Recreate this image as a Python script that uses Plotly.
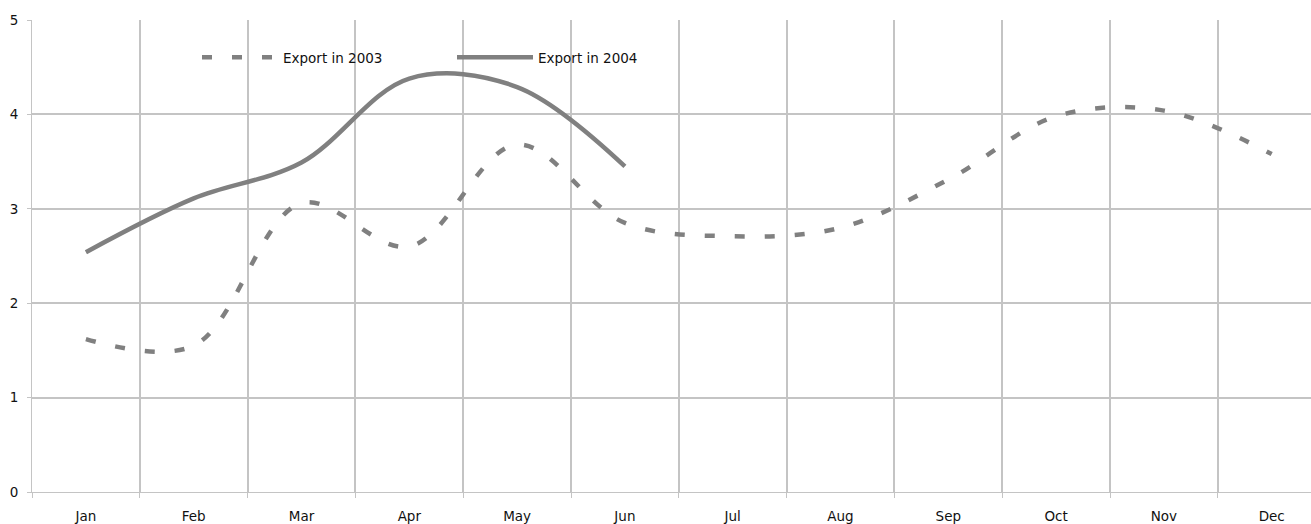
import plotly.graph_objects as go

months = ["Jan", "Feb", "Mar", "Apr", "May", "Jun", "Jul", "Aug", "Sep", "Oct", "Nov", "Dec"]
export_2003 = [1.62, 1.55, 3.06, 2.60, 3.68, 2.85, 2.71, 2.80, 3.31, 3.98, 4.04, 3.58]
months_2004 = ["Jan", "Feb", "Mar", "Apr", "May", "Jun"]
export_2004 = [2.54, 3.11, 3.49, 4.38, 4.29, 3.45]
y_ticks = [0, 1, 2, 3, 4, 5]

W, H = 1311, 524
ML, MR, MT, MB = 32, 0, 20, 32
plot_w = W - ML - MR
cat_w = 107.8
x_end = -0.5 + plot_w / cat_w

LINE = "#808080"
GRID = "#c4c4c4"
FONT = "DejaVu Sans"

fig = go.Figure()
fig.add_trace(go.Scatter(
    x=months, y=export_2003, name="Export in 2003", mode="lines",
    line=dict(color=LINE, width=4.5, dash="10px,20px", shape="spline", smoothing=1),
))
fig.add_trace(go.Scatter(
    x=months_2004, y=export_2004, name="Export in 2004", mode="lines",
    line=dict(color=LINE, width=4.5, shape="spline", smoothing=1),
))

plot_h = H - MT - MB
def px_x(p):
    return (p - ML) / plot_w
def px_y(p):
    return (H - MB - p) / plot_h

# white background block behind the legend (covers gridlines, stays under the lines)
fig.add_shape(type="rect", xref="paper", yref="paper",
              x0=px_x(150), x1=px_x(660), y0=px_y(78), y1=px_y(37),
              fillcolor="white", line=dict(width=0), layer="between")

fig.update_layout(
    width=W, height=H,
    margin=dict(l=ML, r=MR, t=MT, b=MB, pad=0, autoexpand=False),
    paper_bgcolor="white", plot_bgcolor="white",
    font=dict(family=FONT, size=13.5, color="#111111"),
    showlegend=True,
    legend=dict(orientation="h", x=px_x(197), xanchor="left", y=px_y(57.5), yanchor="middle",
                bgcolor="rgba(0,0,0,0)", borderwidth=0, entrywidth=164, entrywidthmode="pixels",
                itemwidth=76, font=dict(family=FONT, size=13.5, color="#111111")),
    xaxis=dict(type="category", categoryorder="array", categoryarray=months,
               range=[-0.5, x_end], tickson="boundaries", automargin=False,
               showgrid=True, gridcolor=GRID, gridwidth=2,
               showline=True, linecolor=GRID, linewidth=1,
               ticks="outside", ticklen=5, tickcolor=GRID, tickwidth=1,
               ticklabelstandoff=12, zeroline=False, fixedrange=True),
    yaxis=dict(range=[0, 5], tickvals=y_ticks, automargin=False,
               showgrid=True, gridcolor=GRID, gridwidth=2,
               showline=True, linecolor=GRID, linewidth=1,
               ticks="outside", ticklen=4, tickcolor=GRID, tickwidth=1,
               ticklabelstandoff=6, zeroline=False, fixedrange=True),
)

fig.write_html("out.html", config={"displayModeBar": False},
               post_script="document.body.style.margin='0';document.body.style.overflow='hidden';")
